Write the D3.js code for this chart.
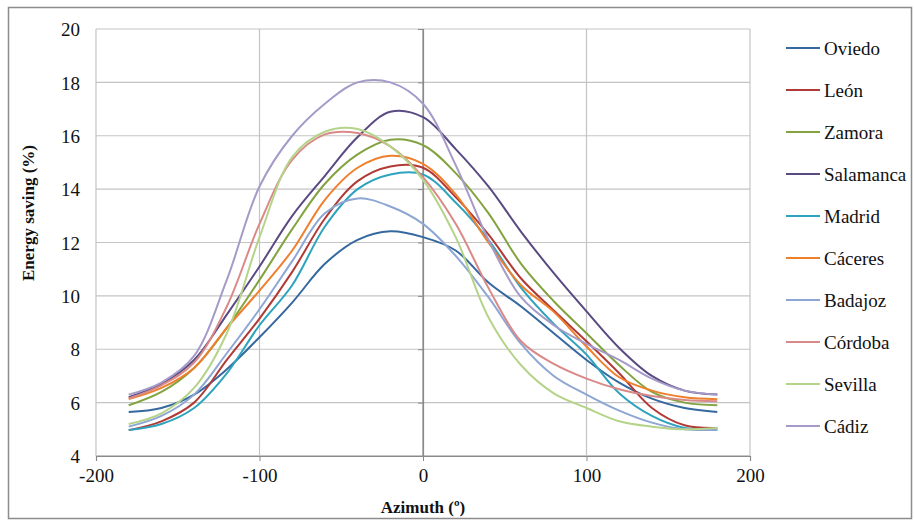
<!DOCTYPE html>
<html><head><meta charset="utf-8">
<script src="https://cdn.jsdelivr.net/npm/d3@7"></script>
<style>body{margin:0;background:#fff}svg{display:block}</style>
</head><body><svg id="c" width="914" height="521"></svg>
<script>
const azimuth = [-180,-160,-140,-120,-100,-80,-60,-40,-20,0,20,40,60,80,100,120,140,160,180];
const cities = ["Oviedo","León","Zamora","Salamanca","Madrid","Cáceres","Badajoz","Córdoba","Sevilla","Cádiz"];
const oviedo    = [5.65,5.8,6.3,7.25,8.45,9.75,11.2,12.1,12.42,12.2,11.7,10.5,9.6,8.6,7.6,6.75,6.15,5.8,5.65];
const leon      = [4.97,5.3,6.0,7.6,9.15,10.9,12.9,14.3,14.85,14.8,13.7,12.3,10.65,9.45,8.3,7.1,5.8,5.15,5.05];
const zamora    = [5.9,6.4,7.3,8.8,10.6,12.5,14.2,15.3,15.85,15.65,14.6,13.1,11.2,9.8,8.6,7.4,6.4,6.0,5.9];
const salamanca = [6.2,6.7,7.6,9.3,11.1,13.0,14.5,15.95,16.9,16.7,15.5,14.1,12.4,10.85,9.42,8.05,7.0,6.45,6.3];
const madrid    = [4.97,5.2,5.8,7.1,8.9,10.4,12.6,14.0,14.55,14.55,13.5,12.1,10.3,8.95,7.8,6.35,5.5,5.05,4.98];
const caceres   = [6.13,6.55,7.3,8.8,10.2,11.7,13.6,14.8,15.25,14.95,13.8,12.0,10.4,9.4,8.1,6.95,6.45,6.2,6.13];
const badajoz   = [5.1,5.5,6.3,7.85,9.5,11.3,13.1,13.65,13.35,12.7,11.5,9.95,8.2,7.0,6.3,5.7,5.25,5.0,4.98];
const cordoba   = [6.16,6.65,7.5,9.6,12.7,15.1,16.05,16.1,15.6,14.45,12.7,10.3,8.3,7.45,6.9,6.5,6.25,6.1,6.05];
const sevilla   = [5.2,5.6,6.55,8.6,12.2,15.2,16.15,16.25,15.6,14.35,12.2,9.2,7.4,6.35,5.8,5.3,5.1,5.0,5.05];
const cadiz     = [6.3,6.75,7.75,10.6,14.1,16.0,17.2,18.0,18.0,17.2,14.9,12.1,9.95,8.9,8.2,7.6,6.9,6.45,6.3];
const seriesValues = [oviedo,leon,zamora,salamanca,madrid,caceres,badajoz,cordoba,sevilla,cadiz];
const colors = ["#35689F","#B03A36","#82A33F","#5A4A82","#2EA3BE","#EE7F2D","#8DA6D4","#D98A88","#B5D48A","#A59AC8"];
const xTicks = [-200,-100,0,100,200];
const yTicks = [4,6,8,10,12,14,16,18,20];

const FONT = "'Times New Roman','Liberation Serif',Tinos,'Nimbus Roman','DejaVu Serif',serif";
const svg = d3.select("#c").attr("font-family",FONT);
svg.append("rect").attr("x",8.5).attr("y",7.5).attr("width",903).attr("height",511)
  .attr("fill","#fff").attr("stroke","#8c8c8c").attr("stroke-width",1.5);

const x = d3.scaleLinear().domain([-200,200]).range([96,750]);
const y = d3.scaleLinear().domain([4,20]).range([456,29]);

// gridlines
svg.append("g").selectAll("line").data(yTicks).join("line")
  .attr("x1",x(-200)).attr("x2",x(200)).attr("y1",d=>y(d)).attr("y2",d=>y(d))
  .attr("stroke",d=>d===4?"#8a8a8a":"#c4c4c4").attr("stroke-width",1.2);
svg.append("g").selectAll("line").data(xTicks).join("line")
  .attr("y1",y(4)).attr("y2",y(20)).attr("x1",d=>x(d)).attr("x2",d=>x(d))
  .attr("stroke",d=>d===0?"#8a8a8a":"#c4c4c4").attr("stroke-width",1.2);

// axes
const xAxis = svg.append("g").attr("transform",`translate(0,${y(4)})`)
  .call(d3.axisBottom(x).tickValues(xTicks).tickSize(5).tickFormat(d=>String(d)));
const yAxis = svg.append("g").attr("transform",`translate(${x(0)},0)`)
  .call(d3.axisLeft(y).tickValues(yTicks).tickSize(5).tickFormat(d=>String(d)));
[xAxis,yAxis].forEach(g=>{
  g.attr("font-family",FONT).attr("font-size",19);
  g.select(".domain").attr("stroke","#8a8a8a").attr("stroke-width",1.2);
  g.selectAll(".tick line").attr("stroke","#8a8a8a");
  g.selectAll("text").attr("fill","#111");});
xAxis.selectAll("text").attr("y",13).attr("dy","0.71em");
yAxis.selectAll(".tick text").attr("x",80-x(0)).attr("dy","0.35em");

// lines
const line = d3.line().x((d,i)=>x(azimuth[i])).y(d=>y(d)).curve(d3.curveCatmullRom.alpha(0.5));
svg.append("g").selectAll("path").data(seriesValues).join("path")
  .attr("d",d=>line(d)).attr("fill","none").attr("stroke",(d,i)=>colors[i]).attr("stroke-width",2);

// legend
const lg = svg.append("g").selectAll("g").data(cities).join("g")
  .attr("transform",(d,i)=>`translate(786,${48+i*42})`);
lg.append("line").attr("x1",0).attr("x2",34).attr("stroke",(d,i)=>colors[i]).attr("stroke-width",2);
lg.append("text").attr("x",38).attr("dy","0.35em").attr("font-size",19).attr("fill","#111").text(d=>d);

// titles
svg.append("text").attr("x",423).attr("y",513).attr("text-anchor","middle")
  .attr("font-size",17).attr("font-weight","bold").attr("fill","#111").text("Azimuth (º)");
svg.append("text").attr("transform","translate(34,213) rotate(-90)").attr("text-anchor","middle")
  .attr("font-size",17).attr("font-weight","bold").attr("fill","#111").text("Energy saving (%)");
</script></body></html>
